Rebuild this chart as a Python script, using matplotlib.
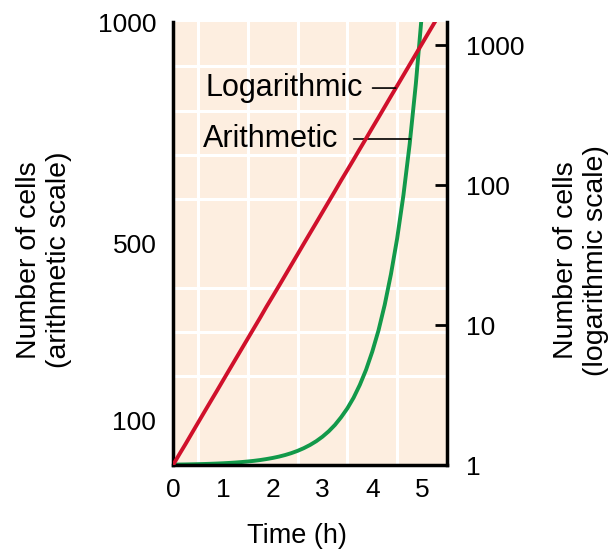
import matplotlib
matplotlib.use("Agg")
from matplotlib import pyplot as plt
from matplotlib.ticker import NullLocator

plt.rcParams['font.family'] = ['Liberation Sans', 'DejaVu Sans']

# Cell numbers (doubling every 30 min)
hours = [0, 0.125, 0.25, 0.375, 0.5, 0.625, 0.75, 0.875, 1, 1.125, 1.25, 1.375,
         1.5, 1.625, 1.75, 1.875, 2, 2.125, 2.25, 2.375, 2.5, 2.625, 2.75, 2.875,
         3, 3.125, 3.25, 3.375, 3.5, 3.625, 3.75, 3.875, 4, 4.125, 4.25, 4.375,
         4.5, 4.625, 4.75, 4.875, 5, 5.125, 5.25, 5.375, 5.5]
cells = [1, 1.19, 1.41, 1.68, 2, 2.38, 2.83, 3.36, 4, 4.76, 5.66, 6.73,
         8, 9.51, 11.3, 13.5, 16, 19.0, 22.6, 26.9, 32, 38.1, 45.3, 53.8,
         64, 76.1, 90.5, 108, 128, 152, 181, 215, 256, 304, 362, 431,
         512, 609, 724, 861, 1024, 1218, 1448, 1722, 2048]

x_ticks = [0, 1, 2, 3, 4, 5]
x_grid = [0.5, 1, 1.5, 2, 2.5, 3, 3.5, 4, 4.5, 5]
left_ticks = [100, 500, 1000]
left_grid = [100, 200, 300, 400, 500, 600, 700, 800, 900]
right_ticks = [1, 10, 100, 1000]

red = '#d0102b'
green = '#12994a'
peach = '#fdeee0'

fig = plt.figure(figsize=(6.12, 5.51), dpi=100)
ax = fig.add_axes([0.2827, 0.156, 0.4477, 0.804])
ax.set_facecolor(peach)

ax.set_xlim(0, 5.5)
ax.set_ylim(0, 1000)
ax.set_xticks(x_ticks)
ax.set_xticks(x_grid, minor=True)
ax.set_yticks(left_ticks)
ax.set_yticks(left_grid, minor=True)
ax.grid(which='minor', color='white', lw=2.2)
ax.tick_params(which='both', length=0, labelsize=19, pad=9)
ax.tick_params(axis='y', pad=12)

for s in ['top', 'right']:
    ax.spines[s].set_visible(False)
for s in ['left', 'bottom']:
    ax.spines[s].set_linewidth(2.5)

# arithmetic curve
ax.plot(hours, cells, color=green, lw=2.8, solid_capstyle='butt')

ax2 = ax.twinx()
ax2.set_yscale('log')
ax2.set_ylim(1, 1460)
ax2.set_yticks(right_ticks)
ax2.set_yticklabels([str(v) for v in right_ticks])
ax2.yaxis.set_minor_locator(NullLocator())
ax2.tick_params(axis='y', direction='in', length=9, width=2, labelsize=19, pad=14)
for s in ['top', 'left', 'bottom']:
    ax2.spines[s].set_visible(False)
ax2.spines['right'].set_linewidth(2.5)

# logarithmic curve
ax2.plot(hours, cells, color=red, lw=2.8, solid_capstyle='butt')

ax2.annotate('Logarithmic', xy=(4.47, 493), xytext=(3.81, 493),
             ha='right', va='center', fontsize=22,
             arrowprops=dict(arrowstyle='-', lw=1.2, color='black',
                             shrinkA=5, shrinkB=0, relpos=(1, 0.5)))
ax.annotate('Arithmetic', xy=(4.76, 736), xytext=(3.32, 736),
            ha='right', va='center', fontsize=22,
            arrowprops=dict(arrowstyle='-', lw=1.2, color='black',
                            shrinkA=9, shrinkB=0, relpos=(1, 0.5)))

fig.text(0.485, 0.028, 'Time (h)', ha='center', va='center', fontsize=19.5)
fig.text(0.072, 0.528, 'Number of cells\n(arithmetic scale)', rotation=90,
         ha='center', va='center', fontsize=20.5, multialignment='center',
         linespacing=1.2)
fig.text(0.949, 0.528, 'Number of cells\n(logarithmic scale)', rotation=90,
         ha='center', va='center', fontsize=20.5, multialignment='center',
         linespacing=1.2)

fig.savefig('out.png', dpi=100)
